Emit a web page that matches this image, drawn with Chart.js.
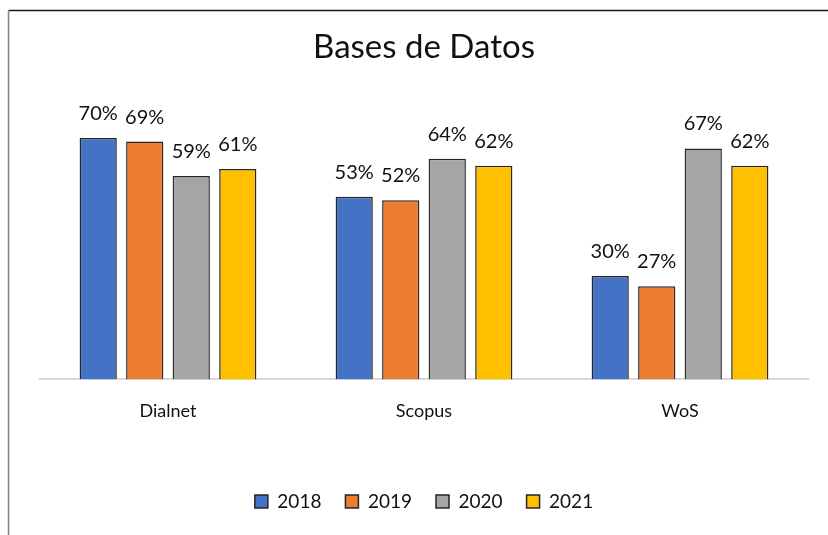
<!DOCTYPE html>
<html>
<head>
<meta charset="utf-8">
<script src="https://cdn.jsdelivr.net/npm/chart.js@4"></script>
<style>
  html, body { margin: 0; padding: 0; background: #fff; }
  #wrap { width: 828px; height: 535px; }
</style>
</head>
<body>
<div id="wrap"><canvas id="chart-bases" width="828" height="535"></canvas></div>
<script>
const categories = ['Dialnet', 'Scopus', 'WoS'];
const years = ['2018', '2019', '2020', '2021'];
const v2018 = [0.70, 0.53, 0.30];
const v2019 = [0.69, 0.52, 0.27];
const v2020 = [0.59, 0.64, 0.67];
const v2021 = [0.61, 0.62, 0.62];
const colors = ['#4472C4', '#ED7D31', '#A5A5A5', '#FFC000'];

const FONT = 'Lato, "Open Sans", sans-serif';

// top and left edge of the Excel chart frame
const framePlugin = {
  id: 'frame',
  beforeDraw(chart) {
    const ctx = chart.ctx;
    ctx.save();
    ctx.fillStyle = '#fff';
    ctx.fillRect(0, 0, chart.width, chart.height);
    ctx.strokeStyle = '#1a1a1a';
    ctx.lineWidth = 1.5;
    ctx.beginPath();
    ctx.moveTo(8.5, 10.5);
    ctx.lineTo(chart.width, 10.5);
    ctx.stroke();
    ctx.strokeStyle = '#7f7f7f';
    ctx.lineWidth = 1.5;
    ctx.beginPath();
    ctx.moveTo(8.5, 10.5);
    ctx.lineTo(8.5, chart.height);
    ctx.stroke();
    ctx.restore();
  }
};

// percent labels above each bar
const labelPlugin = {
  id: 'barLabels',
  afterDatasetsDraw(chart) {
    const ctx = chart.ctx;
    ctx.save();
    ctx.font = '20px ' + FONT;
    ctx.fillStyle = '#111';
    ctx.textAlign = 'center';
    ctx.textBaseline = 'alphabetic';
    chart.data.datasets.forEach((ds, i) => {
      chart.getDatasetMeta(i).data.forEach((bar, j) => {
        ctx.fillText(Math.round(ds.data[j] * 100) + '%', bar.x, bar.y - 18);
      });
    });
    ctx.restore();
  }
};

const series = [v2018, v2019, v2020, v2021];

new Chart(document.getElementById('chart-bases'), {
  type: 'bar',
  data: {
    labels: categories,
    datasets: years.map((y, i) => ({
      label: y,
      data: series[i],
      backgroundColor: colors[i],
      borderColor: '#262626',
      borderWidth: 1.5,
      categoryPercentage: 0.727,
      barPercentage: 0.8
    }))
  },
  options: {
    responsive: false,
    animation: false,
    layout: { padding: { left: 40, right: 20, top: 28, bottom: 14 } },
    plugins: {
      title: {
        display: true,
        text: 'Bases de Datos',
        color: '#111',
        font: { family: FONT, size: 33, weight: 'normal' },
        padding: { top: 0, bottom: 36 }
      },
      legend: {
        position: 'bottom',
        labels: {
          color: '#111',
          font: { family: FONT, size: 19 },
          boxWidth: 13,
          boxHeight: 13,
          padding: 24
        }
      },
      tooltip: { enabled: false }
    },
    scales: {
      x: {
        grid: { display: false, drawTicks: false },
        border: { display: true, color: '#d9d9d9', width: 2 },
        ticks: { color: '#111', font: { family: FONT, size: 18 }, padding: 21 },
        afterFit(scale) { scale.height += 25; }
      },
      y: {
        display: false,
        min: 0,
        max: 0.8
      }
    }
  },
  plugins: [framePlugin, labelPlugin]
});
</script>
</body>
</html>
